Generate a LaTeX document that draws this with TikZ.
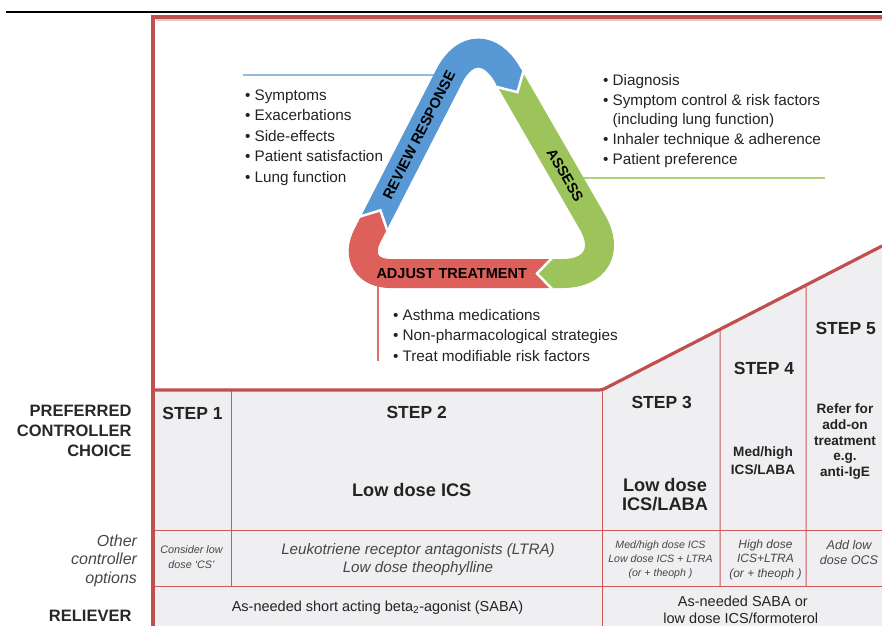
\documentclass[tikz,border=0pt]{standalone}
\usepackage{fontspec}
\setmainfont{Liberation Sans}
\usetikzlibrary{calc}
\definecolor{frame}{RGB}{192,80,77}
\definecolor{thin}{RGB}{205,90,90}
\definecolor{shadowc}{RGB}{228,200,200}
\definecolor{cellbg}{RGB}{239,239,241}
\definecolor{bandblue}{RGB}{88,152,212}
\definecolor{bandgreen}{RGB}{156,196,90}
\definecolor{bandred}{RGB}{222,96,90}
\definecolor{lineblue}{RGB}{150,185,225}
\definecolor{linegreen}{RGB}{175,208,125}
\definecolor{linered}{RGB}{215,115,110}
\definecolor{ink}{RGB}{35,35,35}
\definecolor{labink}{RGB}{40,40,40}
\definecolor{otherink}{RGB}{70,70,70}
\begin{document}
\begin{tikzpicture}[x=1pt,y=-1pt,
  every node/.style={inner sep=0pt,outer sep=0pt,text=ink},
  listtxt/.style={font=\fontsize{15.3}{18}\selectfont,anchor=base west},
  rowlab/.style={font=\bfseries\fontsize{16.5}{20}\selectfont,anchor=base east,text=labink},
  otherlab/.style={font=\itshape\fontsize{16}{19}\selectfont,anchor=base east,text=otherink},
  steplab/.style={font=\bfseries\fontsize{17.5}{20}\selectfont,anchor=base},
  bigdrug/.style={font=\bfseries\fontsize{18.2}{21}\selectfont,anchor=base},
  smalldrug/.style={font=\bfseries\fontsize{13.6}{16}\selectfont,anchor=base},
  opt/.style={font=\itshape\fontsize{#1}{14}\selectfont,anchor=base,text=otherink},
  rel/.style={font=\fontsize{14.5}{17}\selectfont,anchor=base},
  bandtxt/.style={font=\bfseries\fontsize{14.5}{16}\selectfont,text=black},
  band/.style={line width=29pt,line cap=butt},
  frameline/.style={draw=frame,line width=3.2pt},
  gridline/.style={draw=thin,line width=1pt},
  conn/.style={line width=1.6pt}]
\useasboundingbox (0,0) rectangle (882,626);
% top rule
\draw[line width=2pt,black] (6,12) -- (882,12);
% table background
\coordinate (dA) at (602,390);
\coordinate (dB) at (882,246);
\fill[cellbg] (153,390) -- (dA) -- (dB) -- (882,626) -- (153,626) -- cycle;
% grid
\draw[gridline] (153,530) -- (882,530);
\draw[gridline] (153,586) -- (882,586);
\draw[gridline] (231,390) -- (231,586);
\draw[gridline] (602,390) -- (602,626);
\draw[gridline] ($(dA)!0.4214!(dB)$) -- (720,586);
\draw[gridline] ($(dA)!0.7286!(dB)$) -- (806,586);
% frame
\draw[shadowc,line width=2pt] (156,20) -- (882,20);
\draw[frameline] (882,17) -- (153,17) -- (153,626);
\draw[frameline,rounded corners=3pt] (153,390) -- (dA) -- (dB);
% cycle geometry
\coordinate (V1) at (477,22);
\coordinate (B) at (348,273.5);
\coordinate (C) at (622,273.5);
\coordinate (jbg) at ($(V1)!66pt!(C)$);
\coordinate (jbgb) at ($(V1)!63pt!(C)$);
\coordinate (tbg) at ($(V1)!81pt!(C)$);
\coordinate (jgr) at ($(C)!70pt!(B)$);
\coordinate (jgrb) at ($(C)!67pt!(B)$);
\coordinate (tgr) at ($(C)!85pt!(B)$);
\coordinate (jrb) at ($(B)!56pt!(V1)$);
\coordinate (jrbb) at ($(B)!53pt!(V1)$);
\coordinate (trb) at ($(B)!71pt!(V1)$);
% connectors (beneath bands)
\coordinate (bluefoot) at (450,75);
\coordinate (blueend) at (243,75);
\coordinate (greenfoot) at (567,178);
\coordinate (greenend) at (825,178);
\coordinate (redfoot) at (378,273.5);
\coordinate (redend) at (378,361);
\draw[conn,lineblue] (blueend) -- (bluefoot);
\draw[conn,linegreen] (greenfoot) -- (greenend);
\draw[conn,linered] (redfoot) -- (redend);
% bands
\draw[band,bandblue,rounded corners=60.5pt] (jrb) -- (V1) -- (jbg);
\draw[band,bandgreen,rounded corners=59pt] (jbg) -- (C) -- (jgr);
\draw[band,bandred,rounded corners=42.6pt] (jgr) -- (B) -- (jrb);
% heads
\fill[bandblue] ($(jbg)!14.5pt!90:(C)$) -- (tbg) -- ($(jbg)!14.5pt!-90:(C)$) -- ($(jbgb)!14.5pt!-90:(C)$) -- ($(jbgb)!14.5pt!90:(C)$) -- cycle;
\draw[white,line width=2.5pt] ($(jbg)!15.5pt!90:(C)$) -- (tbg) -- ($(jbg)!15.5pt!-90:(C)$);
\fill[bandgreen] ($(jgr)!14.5pt!90:(B)$) -- (tgr) -- ($(jgr)!14.5pt!-90:(B)$) -- ($(jgrb)!14.5pt!-90:(B)$) -- ($(jgrb)!14.5pt!90:(B)$) -- cycle;
\draw[white,line width=2.5pt] ($(jgr)!15.5pt!90:(B)$) -- (tgr) -- ($(jgr)!15.5pt!-90:(B)$);
\fill[bandred] ($(jrb)!14.5pt!90:(V1)$) -- (trb) -- ($(jrb)!14.5pt!-90:(V1)$) -- ($(jrbb)!14.5pt!-90:(V1)$) -- ($(jrbb)!14.5pt!90:(V1)$) -- cycle;
\draw[white,line width=2.5pt] ($(jrb)!15.5pt!90:(V1)$) -- (trb) -- ($(jrb)!15.5pt!-90:(V1)$);
% band labels
\node[bandtxt,rotate=62.85] (review) at ($(B)!155.7pt!(V1)$) {REVIEW RESPONSE};
\node[bandtxt,rotate=-60.04] (assess) at ($(V1)!176.6pt!(C)$) {ASSESS};
\node[bandtxt] (adjust) at (451.7,274) {ADJUST TREATMENT};
% lists
\node[listtxt] (r1) at (245,100.7) {\textbullet\ Symptoms};
\node[listtxt] (r2) at (245,120.9) {\textbullet\ Exacerbations};
\node[listtxt] (r3) at (245,141.4) {\textbullet\ Side-effects};
\node[listtxt] (r4) at (245,161.9) {\textbullet\ Patient satisfaction};
\node[listtxt] (r5) at (245,182.4) {\textbullet\ Lung function};
\node[listtxt] (a1) at (603,85) {\textbullet\ Diagnosis};
\node[listtxt] (a2) at (603,105.5) {\textbullet\ Symptom control \& risk factors};
\node[listtxt] (a3) at (612.6,124) {(including lung function)};
\node[listtxt] (a4) at (603,144.3) {\textbullet\ Inhaler technique \& adherence};
\node[listtxt] (a5) at (603,164.5) {\textbullet\ Patient preference};
\node[listtxt] (t1) at (393,320) {\textbullet\ Asthma medications};
\node[listtxt] (t2) at (393,340.7) {\textbullet\ Non-pharmacological strategies};
\node[listtxt] (t3) at (393,361.2) {\textbullet\ Treat modifiable risk factors};
% row labels
\node[rowlab] (p1) at (131.5,416) {PREFERRED};
\node[rowlab] (p2) at (131.5,436) {CONTROLLER};
\node[rowlab] (p3) at (131.5,456) {CHOICE};
\node[otherlab] (o1) at (137,546) {Other};
\node[otherlab] (o2) at (137,564.5) {controller};
\node[otherlab] (o3) at (137,583) {options};
\node[rowlab] (rl) at (131.5,621) {RELIEVER};
% steps
\node[steplab] (s1) at (192.5,419.5) {STEP 1};
\node[steplab] (s2) at (416.7,418) {STEP 2};
\node[steplab] (s3) at (661.7,408) {STEP 3};
\node[steplab] (s4) at (764,374.6) {STEP 4};
\node[steplab] (s5) at (845.7,334.6) {STEP 5};
% preferred controllers
\node[bigdrug] (c2) at (411.7,496.5) {Low dose ICS};
\node[bigdrug] (c3a) at (665,491) {Low dose};
\node[bigdrug] (c3b) at (665,510.5) {ICS/LABA};
\node[smalldrug] (c4a) at (763,456.5) {Med/high};
\node[smalldrug] (c4b) at (763,474.5) {ICS/LABA};
\node[smalldrug] (c5a) at (845,413.3) {Refer for};
\node[smalldrug] (c5b) at (845,429.3) {add-on};
\node[smalldrug] (c5c) at (845,445) {treatment};
\node[smalldrug] (c5d) at (845,460.7) {e.g.};
\node[smalldrug] (c5e) at (845,476.7) {anti-IgE};
% other options
\node[opt=10.8] (x1a) at (191.5,553) {Consider low};
\node[opt=10.8] (x1b) at (191.5,568) {dose `CS'};
\node[opt=15.2] (x2a) at (418,554) {Leukotriene receptor antagonists (LTRA)};
\node[opt=15.2] (x2b) at (418,572.7) {Low dose theophylline};
\node[opt=10.6] (x3a) at (660.5,548.3) {Med/high dose ICS};
\node[opt=10.6] (x3b) at (660.5,562.3) {Low dose ICS + LTRA};
\node[opt=10.6] (x3c) at (660.5,576) {(or + theoph )};
\node[opt=12] (x4a) at (765.5,548.6) {High dose};
\node[opt=12] (x4b) at (765.5,562.5) {ICS+LTRA};
\node[opt=12] (x4c) at (765.5,577) {(or + theoph )};
\node[opt=12.6] (x5a) at (849,549) {Add low};
\node[opt=12.6] (x5b) at (849,564) {dose OCS};
% relievers
\node[rel] (rv1) at (377.5,611.7) {As-needed short acting beta\textsubscript{2}-agonist (SABA)};
\node[rel] (rv2a) at (742.8,606.7) {As-needed SABA or};
\node[rel] (rv2b) at (740.8,623.3) {low dose ICS/formoterol};
\end{tikzpicture}
\end{document}
